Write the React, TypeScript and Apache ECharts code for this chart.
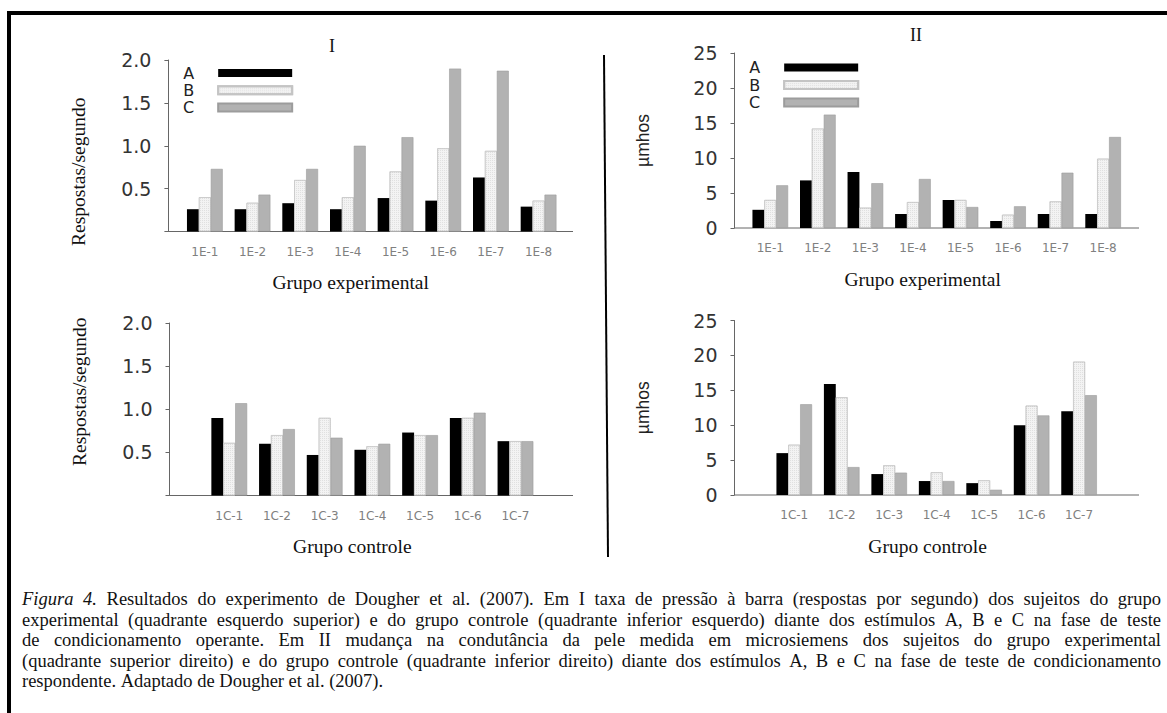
import React, { useEffect, useRef } from "react";
import * as echarts from "echarts";

const seriesNames = ["A", "B", "C"];
const expCategories = ["1E-1", "1E-2", "1E-3", "1E-4", "1E-5", "1E-6", "1E-7", "1E-8"];
const ctrlCategories = ["1C-1", "1C-2", "1C-3", "1C-4", "1C-5", "1C-6", "1C-7"];

// I: respostas/segundo
const expRateA = [0.26, 0.26, 0.33, 0.26, 0.39, 0.36, 0.63, 0.29];
const expRateB = [0.4, 0.335, 0.6, 0.4, 0.7, 0.97, 0.94, 0.36];
const expRateC = [0.73, 0.43, 0.73, 1.0, 1.1, 1.9, 1.875, 0.43];
const ctrlRateA = [0.9, 0.6, 0.47, 0.53, 0.73, 0.9, 0.63];
const ctrlRateB = [0.61, 0.7, 0.9, 0.57, 0.7, 0.9, 0.63];
const ctrlRateC = [1.07, 0.77, 0.67, 0.6, 0.7, 0.96, 0.63];

// II: µmhos
const expCondA = [2.6, 6.8, 8.0, 2.0, 4.0, 1.0, 2.0, 2.0];
const expCondB = [4.0, 14.2, 2.9, 3.7, 4.0, 1.9, 3.8, 9.9];
const expCondC = [6.1, 16.2, 6.4, 7.0, 3.0, 3.1, 7.9, 13.0];
const ctrlCondA = [6.0, 15.9, 3.0, 2.0, 1.7, 10.0, 12.0];
const ctrlCondB = [7.2, 14.0, 4.25, 3.25, 2.1, 12.8, 19.1];
const ctrlCondC = [13.0, 4.0, 3.2, 2.0, 0.75, 11.4, 14.3];

// tick settings
const rateMax = 2.0;
const rateInterval = 0.5;
const condMax = 25;
const condInterval = 5;

// caption (last line is not justified)
const captionLines = [
  "Figura 4. Resultados do experimento de Dougher et al. (2007). Em I taxa de pressão à barra (respostas por segundo) dos sujeitos do grupo",
  "experimental (quadrante esquerdo superior) e do grupo controle (quadrante inferior esquerdo) diante dos estímulos A, B e C na fase de teste",
  "de condicionamento operante. Em II mudança na condutância da pele medida em microsiemens dos sujeitos do grupo experimental",
  "(quadrante superior direito) e do grupo controle (quadrante inferior direito) diante dos estímulos A, B e C na fase de teste de condicionamento",
  "respondente. Adaptado de Dougher et al. (2007).",
];
const italicWords = ["Figura", "4."];

const SANS = "DejaVu Sans";
const SERIF = "Liberation Serif";

const colorA = "#000000";
const colorB = "#f3f3f3";
const colorC = "#b2b2b2";

function barSeries(name: string, data: number[], idx: number) {
  const base: any = {
    type: "bar",
    name,
    data,
    xAxisIndex: idx,
    yAxisIndex: idx,
    barGap: "0%",
    barCategoryGap: "25%",
    itemStyle: {},
  };
  if (name === "A") base.itemStyle = { color: colorA };
  if (name === "B")
    base.itemStyle = {
      color: colorB,
      borderColor: "#c4c4c4",
      borderWidth: 0.6,
      decal: {
        symbol: "rect",
        symbolSize: 1,
        color: "rgba(0,0,0,0.08)",
        dashArrayX: [1, 1],
        dashArrayY: [1, 1],
      },
    };
  if (name === "C") base.itemStyle = { color: colorC, borderColor: "#9c9c9c", borderWidth: 0.6 };
  return base;
}

function captionGraphics(): any[] {
  const left = 22;
  const right = 1161;
  const top0 = 599;
  const lh = 20.5;
  const canvas = document.createElement("canvas");
  const ctx = canvas.getContext("2d") as CanvasRenderingContext2D;
  let size = 18.5;
  const measure = (w: string, italic: boolean, s: number) => {
    ctx.font = `${italic ? "italic " : ""}${s}px "${SERIF}"`;
    return ctx.measureText(w).width;
  };
  const lineNatural = (line: string, li: number, s: number) => {
    const words = line.split(" ");
    const tot = words.reduce((a, w, wi) => a + measure(w, li === 0 && wi < 2 && italicWords.includes(w), s), 0);
    return tot + (words.length - 1) * measure(" ", false, s) * 0.55;
  };
  for (let k = 0; k < 30; k++) {
    const widest = Math.max(...captionLines.slice(0, -1).map((l, li) => lineNatural(l, li, size)));
    if (widest <= right - left) break;
    size -= 0.25;
  }
  const spaceW = measure(" ", false, size);
  const out: any[] = [];
  captionLines.forEach((line, li) => {
    const y = top0 + li * lh;
    const words = line.split(" ");
    const isLast = li === captionLines.length - 1;
    const itFlags = words.map((w, wi) => li === 0 && wi < 2 && italicWords.includes(w));
    const widths = words.map((w, wi) => measure(w, itFlags[wi], size));
    const total = widths.reduce((a, b) => a + b, 0);
    const gap = isLast || words.length < 2 ? spaceW : (right - left - total) / (words.length - 1);
    let x = left;
    words.forEach((w, wi) => {
      out.push({
        type: "text",
        x,
        y,
        style: {
          text: w,
          font: `${itFlags[wi] ? "italic " : ""}${size}px "${SERIF}"`,
          fill: "#111",
          verticalAlign: "middle",
        },
      });
      x += widths[wi] + gap;
    });
  });
  return out;
}

export default function App() {
  const ref = useRef<HTMLDivElement>(null);
  useEffect(() => {
    if (!ref.current) return;
    const chart = echarts.init(ref.current, null, { renderer: "svg" });

    const grids = [
      { left: 181, top: 60, width: 381.4, height: 171.5 },
      { left: 746.5, top: 53, width: 380.4, height: 175 },
      { left: 205.4, top: 323, width: 333.9, height: 172.5 },
      { left: 770.5, top: 320.5, width: 332.3, height: 174.5 },
    ];
    const axisX = [168.4, 734.5, 169.5, 734.5];
    const axisEnd = [573, 1139, 573, 1139];
    const cats = [expCategories, expCategories, ctrlCategories, ctrlCategories];
    const xNames = ["Grupo experimental", "Grupo experimental", "Grupo controle", "Grupo controle"];
    const xNameShift = [42, 28, 40, 18];
    const isRate = [true, false, true, false];
    const yNamePad = [
      [0, 52, 0, 0],
      [0, 0, 0, 0],
      [0, 0, 0, 35],
      [0, 0, 0, 0],
    ];

    const xAxis = grids.map((_, i) => ({
      type: "category",
      gridIndex: i,
      data: cats[i],
      axisLine: { show: false },
      axisTick: { show: false },
      axisLabel: { color: "#808080", fontFamily: SANS, fontSize: 12, margin: 14 },
      name: xNames[i],
      nameLocation: "middle",
      nameGap: 41,
      nameTextStyle: { fontFamily: SERIF, fontSize: 19.5, color: "#111", padding: [0, xNameShift[i], 0, 0] },
    }));

    const yAxis = grids.map((g, i) => ({
      type: "value",
      gridIndex: i,
      min: 0,
      max: isRate[i] ? rateMax : condMax,
      interval: isRate[i] ? rateInterval : condInterval,
      offset: g.left - axisX[i],
      splitLine: { show: false },
      axisLine: { show: true, lineStyle: { color: "#666", width: 1 } },
      axisTick: { show: true, length: 4, lineStyle: { color: "#666" } },
      axisLabel: {
        color: "#333",
        fontFamily: SANS,
        fontSize: 19,
        margin: 17,
        formatter: (v: number) => (isRate[i] ? (v === 0 ? "" : v.toFixed(1)) : String(v)),
      },
      name: isRate[i] ? "Respostas/segundo" : "µmhos",
      nameLocation: "middle",
      nameGap: isRate[i] ? 80 : 83,
      nameTextStyle: isRate[i]
        ? { fontFamily: SERIF, fontSize: 19.5, color: "#111", padding: yNamePad[i] }
        : { fontFamily: "Liberation Sans", fontSize: 17.5, color: "#222", padding: yNamePad[i] },
    }));

    const dataSets = [
      [expRateA, expRateB, expRateC],
      [expCondA, expCondB, expCondC],
      [ctrlRateA, ctrlRateB, ctrlRateC],
      [ctrlCondA, ctrlCondB, ctrlCondC],
    ];
    const series: any[] = [];
    dataSets.forEach((set, i) => set.forEach((d, k) => series.push(barSeries(seriesNames[k], d, i))));

    const legendBase = {
      orient: "vertical",
      align: "right",
      itemWidth: 74,
      itemHeight: 8,
      itemGap: 0,
      padding: 0,
      icon: "rect",
      data: seriesNames,
      selectedMode: false,
    };
    const legendText = (lh: number) => ({
      fontFamily: SANS,
      fontSize: 16,
      lineHeight: lh,
      color: "#222",
      padding: [0, 19, 0, 0],
    });

    const graphic: any[] = [
      { type: "line", shape: { x1: 7, y1: 13, x2: 1167, y2: 13 }, style: { stroke: "#000", lineWidth: 4 } },
      { type: "line", shape: { x1: 9, y1: 11, x2: 9, y2: 713 }, style: { stroke: "#000", lineWidth: 4 } },
      { type: "line", shape: { x1: 604, y1: 55, x2: 608, y2: 557 }, style: { stroke: "#000", lineWidth: 2 } },
      ...grids.map((g, i) => ({
        type: "line",
        shape: { x1: axisX[i], y1: g.top + g.height, x2: axisEnd[i], y2: g.top + g.height },
        style: { stroke: "#666", lineWidth: 1 },
      })),
      {
        type: "text",
        x: 332,
        y: 46,
        style: { text: "I", font: `18px "${SERIF}"`, fill: "#111", align: "center", verticalAlign: "middle" },
      },
      {
        type: "text",
        x: 916,
        y: 35,
        style: { text: "II", font: `18px "${SERIF}"`, fill: "#111", align: "center", verticalAlign: "middle" },
      },
      ...captionGraphics(),
    ];

    chart.setOption({
      animation: false,
      backgroundColor: "#ffffff",
      grid: grids,
      xAxis,
      yAxis,
      legend: [
        { ...legendBase, left: 183, top: 64.4, textStyle: legendText(17.25) },
        { ...legendBase, left: 749, top: 58.8, textStyle: legendText(17.5) },
      ],
      series,
      graphic,
    });
    return () => chart.dispose();
  }, []);
  return <div ref={ref} style={{ position: "fixed", left: 0, top: 0, width: 1167, height: 713 }} />;
}
